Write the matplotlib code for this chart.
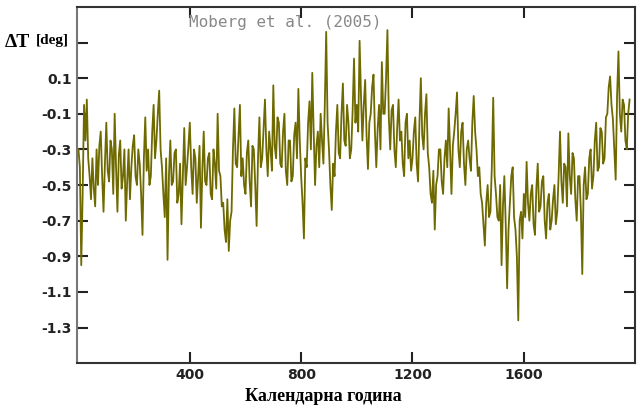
import numpy as np
import matplotlib
matplotlib.use("Agg")
import matplotlib.pyplot as plt

# Moberg et al. (2005) reconstruction, every 5 years
years = np.arange(0, 1981, 5)
dT = [
    # 0 - 95
    -0.30, -0.40, -0.95, -0.55, -0.05, -0.25, -0.02, -0.35, -0.45, -0.58,
    -0.35, -0.52, -0.62, -0.30, -0.50, -0.28, -0.20, -0.45, -0.65, -0.38,
    # 100 - 195
    -0.15, -0.42, -0.48, -0.25, -0.30, -0.55, -0.10, -0.40, -0.65, -0.33,
    -0.25, -0.52, -0.45, -0.30, -0.70, -0.48, -0.30, -0.58, -0.40, -0.28,
    # 200 - 295
    -0.22, -0.45, -0.50, -0.30, -0.38, -0.55, -0.78, -0.35, -0.12, -0.42,
    -0.30, -0.50, -0.45, -0.20, -0.05, -0.35, -0.25, -0.10, 0.03, -0.30,
    # 300 - 395
    -0.40, -0.55, -0.68, -0.35, -0.92, -0.45, -0.25, -0.50, -0.48, -0.32,
    -0.30, -0.60, -0.55, -0.38, -0.72, -0.45, -0.18, -0.50, -0.40, -0.28,
    # 400 - 495
    -0.15, -0.40, -0.55, -0.30, -0.35, -0.60, -0.45, -0.28, -0.74, -0.42,
    -0.20, -0.48, -0.50, -0.35, -0.32, -0.55, -0.58, -0.30, -0.38, -0.52,
    # 500 - 595
    -0.10, -0.42, -0.45, -0.62, -0.60, -0.75, -0.82, -0.58, -0.87, -0.70,
    -0.65, -0.30, -0.07, -0.38, -0.40, -0.22, -0.05, -0.45, -0.35, -0.50,
    # 600 - 695
    -0.55, -0.32, -0.25, -0.48, -0.62, -0.28, -0.30, -0.50, -0.73, -0.35,
    -0.12, -0.40, -0.35, -0.18, -0.02, -0.30, -0.45, -0.20, -0.30, -0.42,
    # 700 - 795
    0.06, -0.28, -0.35, -0.12, -0.15, -0.38, -0.40, -0.20, -0.10, -0.42,
    -0.50, -0.25, -0.25, -0.48, -0.45, -0.22, -0.15, -0.35, 0.04, -0.25,
    # 800 - 895
    -0.45, -0.60, -0.80, -0.35, -0.40, -0.15, -0.03, -0.30, 0.13, -0.20,
    -0.50, -0.28, -0.20, -0.40, -0.10, -0.25, -0.38, -0.05, 0.36, -0.15,
    # 900 - 995
    -0.30, -0.50, -0.64, -0.38, -0.45, -0.20, -0.05, -0.32, -0.35, -0.10,
    0.07, -0.25, -0.28, -0.05, -0.15, -0.35, -0.30, -0.08, 0.21, -0.15,
    # 1000 - 1095
    -0.05, -0.20, 0.31, 0.00, -0.25, -0.05, 0.09, -0.22, -0.41, -0.15,
    -0.10, 0.05, 0.12, -0.20, -0.40, -0.18, -0.05, -0.30, 0.19, -0.10,
    # 1100 - 1195
    -0.10, 0.10, 0.37, -0.12, -0.30, -0.08, -0.05, -0.30, -0.40, -0.18,
    -0.02, -0.25, -0.20, -0.38, -0.45, -0.15, -0.10, -0.35, -0.25, -0.42,
    # 1200 - 1295
    -0.35, -0.20, -0.12, -0.38, -0.48, -0.15, 0.10, -0.22, -0.30, -0.10,
    0.01, -0.32, -0.40, -0.55, -0.60, -0.42, -0.75, -0.50, -0.45, -0.30,
    # 1300 - 1395
    -0.30, -0.48, -0.55, -0.35, -0.25, -0.40, -0.07, -0.30, -0.55, -0.28,
    -0.20, -0.10, 0.02, -0.30, -0.40, -0.20, -0.15, -0.38, -0.50, -0.30,
    # 1400 - 1495
    -0.25, -0.35, -0.42, -0.15, 0.00, -0.20, -0.30, -0.45, -0.40, -0.55,
    -0.60, -0.72, -0.84, -0.60, -0.50, -0.68, -0.65, -0.40, -0.01, -0.45,
    # 1500 - 1595
    -0.55, -0.68, -0.70, -0.50, -0.95, -0.62, -0.45, -0.72, -1.08, -0.75,
    -0.60, -0.45, -0.40, -0.68, -0.75, -0.90, -1.26, -0.70, -0.65, -0.80,
    # 1600 - 1695
    -0.55, -0.68, -0.37, -0.60, -0.70, -0.55, -0.50, -0.72, -0.78, -0.52,
    -0.38, -0.65, -0.62, -0.48, -0.45, -0.70, -0.80, -0.60, -0.55, -0.75,
    # 1700 - 1795
    -0.70, -0.58, -0.50, -0.72, -0.65, -0.45, -0.20, -0.48, -0.60, -0.38,
    -0.40, -0.62, -0.21, -0.45, -0.55, -0.32, -0.35, -0.58, -0.70, -0.45,
    # 1800 - 1895
    -0.45, -0.65, -1.00, -0.50, -0.40, -0.58, -0.55, -0.35, -0.30, -0.52,
    -0.45, -0.25, -0.15, -0.42, -0.40, -0.18, -0.20, -0.38, -0.35, -0.12,
    # 1900 - 1980
    -0.10, 0.05, 0.11, -0.05, -0.13, -0.30, -0.47, 0.00, 0.25, -0.10,
    -0.20, -0.02, -0.05, -0.25, -0.30, -0.10, -0.02,
]

yticks = [0.1, -0.1, -0.3, -0.5, -0.7, -0.9, -1.1, -1.3]
xticks = [400, 800, 1200, 1600]

fig = plt.figure(figsize=(6.4, 4.08), dpi=100)
ax = fig.add_axes([0.120, 0.110, 0.872, 0.873])

ax.plot(years, dT, color="#6e6a00", lw=1.3)

ax.set_xlim(-6, 1999)
ax.set_ylim(-1.5, 0.5)

ax.set_yticks([0.3] + yticks)
ax.set_yticklabels([""] + [f"{v:.1f}" for v in yticks])
ax.set_xticks(xticks)
ax.set_xticklabels([str(v) for v in xticks])
ax.tick_params(direction="in", length=8, width=1.5, top=True, right=True,
               labelsize=10, colors="#222222")
for lab in ax.get_xticklabels() + ax.get_yticklabels():
    lab.set_fontweight("bold")
for s in ax.spines.values():
    s.set_linewidth(1.5)
    s.set_color("#333333")
ax.spines["left"].set_color("#777777")

ax.text(742, 0.41, "Moberg et al. (2005)", family="DejaVu Sans Mono",
        fontsize=11.5, color="#888888", ha="center", va="center")

fig.text(0.008, 0.895, "ΔT", family="Liberation Serif", fontweight="bold",
         fontsize=14, va="center")
fig.text(0.056, 0.900, "[deg]", family="Liberation Serif", fontweight="bold",
         fontsize=11, va="center")
fig.text(0.505, 0.027, "Календарна година", family="Liberation Serif",
         fontweight="bold", fontsize=13, ha="center", va="center")

fig.savefig("out.png", dpi=100)
